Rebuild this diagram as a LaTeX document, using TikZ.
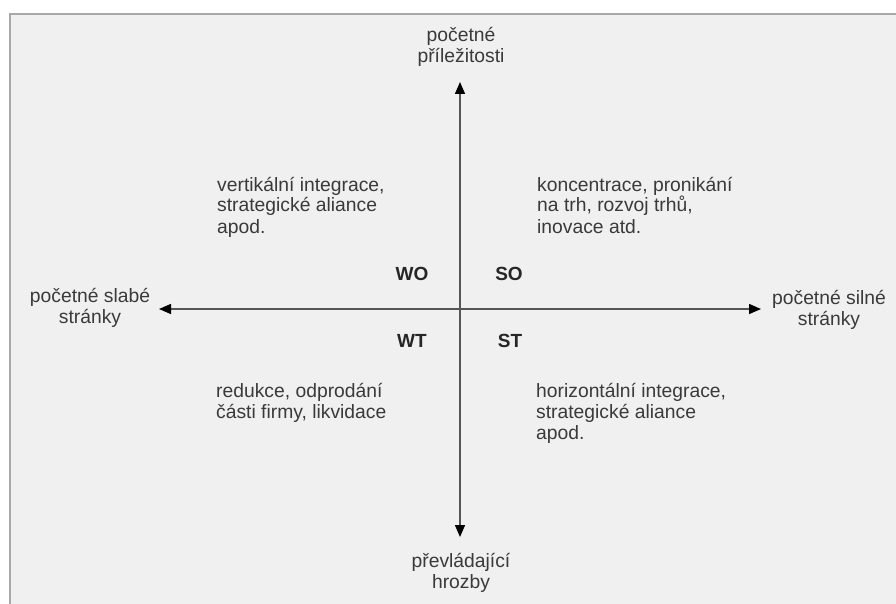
\documentclass[tikz,border=0pt]{standalone}
\usepackage{fontspec}
\setmainfont{Liberation Sans}
\usetikzlibrary{arrows.meta}
\definecolor{boxfill}{HTML}{F0F0F0}
\definecolor{boxline}{HTML}{A8A8A8}
\definecolor{txt}{HTML}{3A3A3A}
\definecolor{axis}{HTML}{555555}
\tikzset{
  lbl/.style={inner sep=0pt, text=txt, font=\fontsize{19.3}{21}\selectfont},
  quad/.style={lbl, align=left, anchor=base west},
  axlbl/.style={lbl, align=center, anchor=base},
  tag/.style={inner sep=0pt, text=black!85, font=\fontsize{19}{21}\selectfont\bfseries, anchor=base},
  axarrow/.style={draw=axis, line width=1.4pt, -{Triangle[length=12pt,width=10pt,color=black]}}
}
\begin{document}
\begin{tikzpicture}[x=1pt,y=-1pt]
\useasboundingbox (0,0) rectangle (896,604);
\fill[white] (0,0) rectangle (896,604);
\fill[boxfill] (10,14) rectangle (896,604);
\draw[boxline, line width=2pt] (10,604) -- (10,14) -- (896,14);

\coordinate (c) at (460,309);
\coordinate (top) at (460,82);
\coordinate (bot) at (460,537);
\coordinate (lft) at (159,309);
\coordinate (rgt) at (761,309);

\draw[axarrow] (c) -- (top);
\draw[axarrow] (c) -- (bot);
\draw[axarrow] (c) -- (lft);
\draw[axarrow] (c) -- (rgt);

% anchor=base of a multi-line node is the baseline of its last line
\node[axlbl] (ltop) at (461,63) {početné\\příležitosti};
\node[axlbl] (lbot) at (461,588) {převládající\\hrozby};
\node[axlbl] (llft) at (90,323) {početné slabé\\stránky};
\node[axlbl] (lrgt) at (829,325) {početné silné\\stránky};

\node[tag] (wo) at (412,280) {WO};
\node[tag] (so) at (509,280) {SO};
\node[tag] (wt) at (412,347) {WT};
\node[tag] (st) at (510,347) {ST};

\node[quad] (qtl) at (217,233) {vertikální integrace,\\strategické aliance\\apod.};
\node[quad] (qtr) at (537,233) {koncentrace, pronikání\\na trh, rozvoj trhů,\\inovace atd.};
\node[quad] (qbl) at (216,418) {redukce, odprodání\\části firmy, likvidace};
\node[quad] (qbr) at (536,439) {horizontální integrace,\\strategické aliance\\apod.};
\end{tikzpicture}
\end{document}
